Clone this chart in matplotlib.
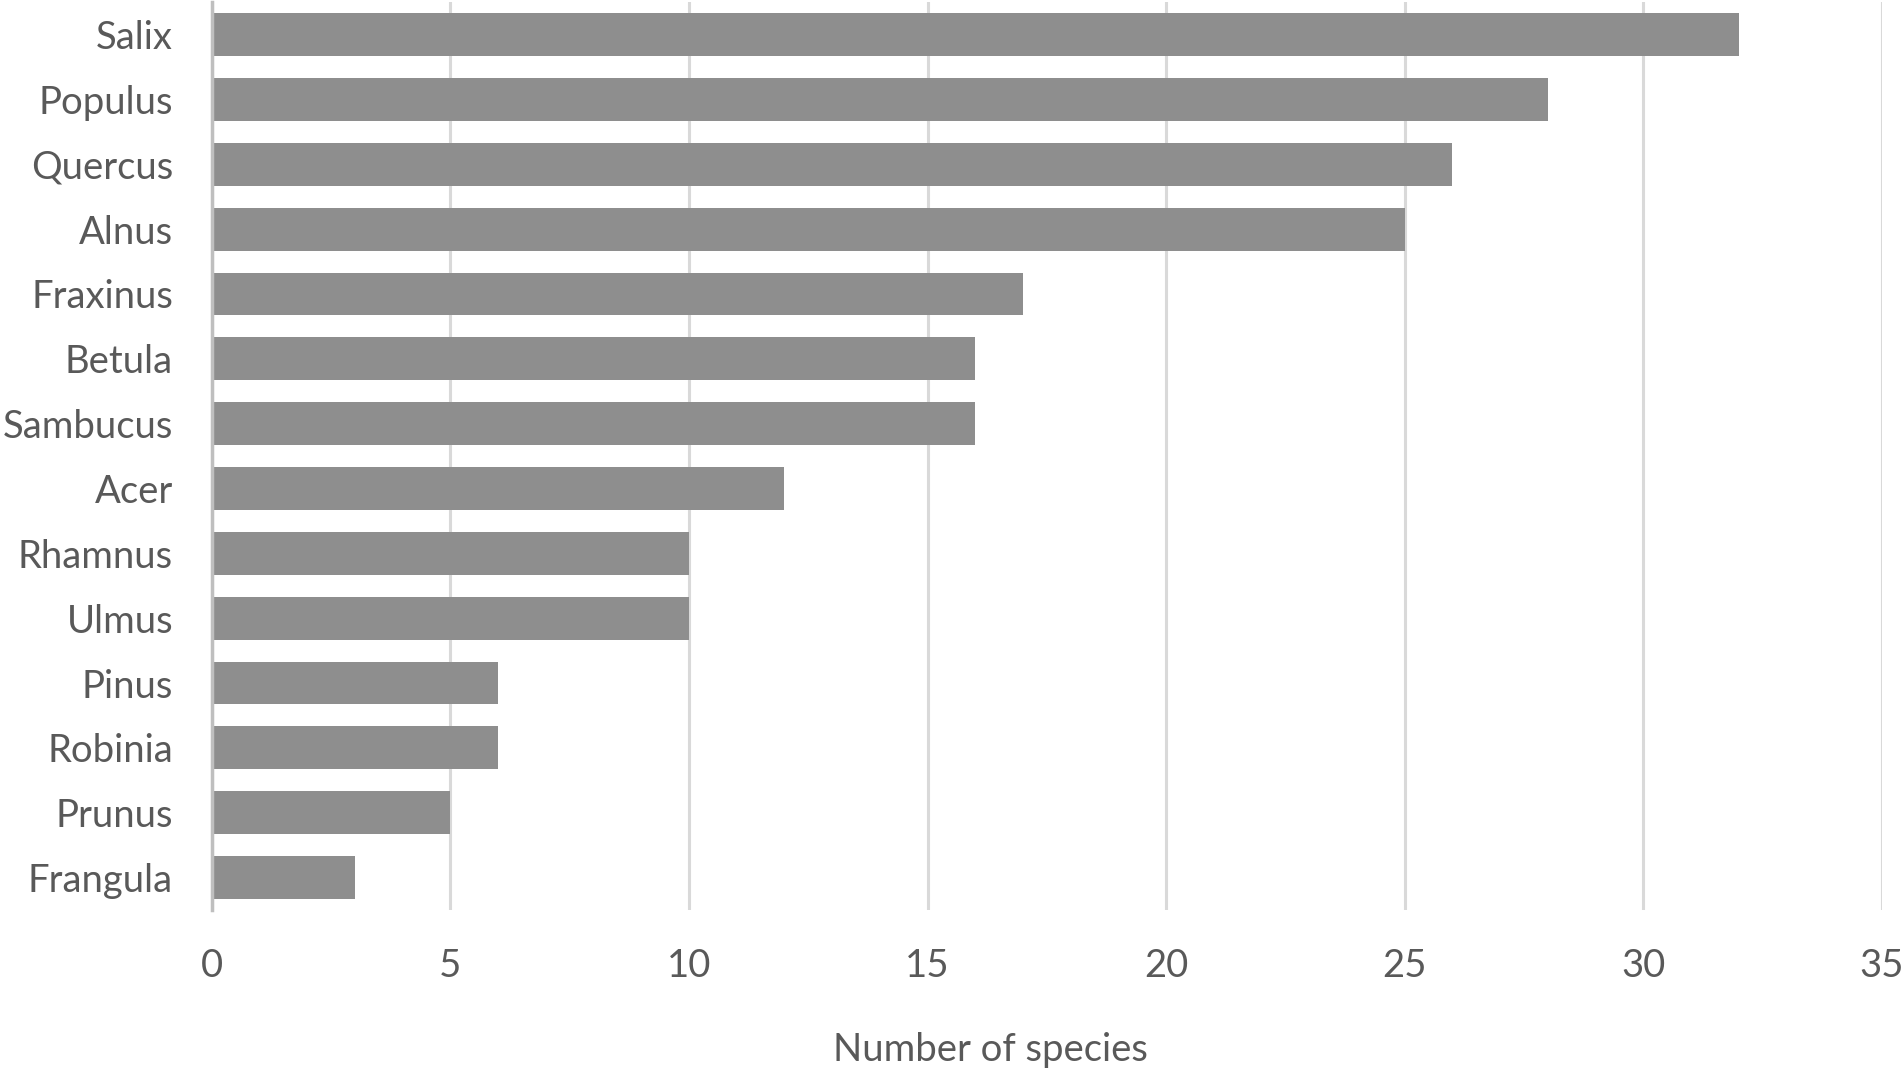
import matplotlib.pyplot as plt

genera = ["Salix", "Populus", "Quercus", "Alnus", "Fraxinus", "Betula", "Sambucus",
          "Acer", "Rhamnus", "Ulmus", "Pinus", "Robinia", "Prunus", "Frangula"]
n_species = [32, 28, 26, 25, 17, 16, 16, 12, 10, 10, 6, 6, 5, 3]
xticks = [0, 5, 10, 15, 20, 25, 30, 35]

plt.rcParams['font.family'] = ['Lato', 'DejaVu Sans']
txt = '#595959'

fig = plt.figure(figsize=(19.04, 10.73), dpi=100)
ax = fig.add_axes([0.1113, 0.1519, 0.8771, 0.8461])

pos = list(range(len(genera)))
ax.barh(pos, n_species, height=0.66, color='#8e8e8e', zorder=3)
ax.set_ylim(len(genera) - 0.5, -0.5)
ax.set_xlim(0, 35)
ax.set_yticks(pos)
ax.set_yticklabels(genera)
ax.set_xticks(xticks)

ax.grid(axis='x', color='#d9d9d9', linewidth=2.2, zorder=0)
for s in ['top', 'right', 'bottom']:
    ax.spines[s].set_visible(False)
ax.spines['left'].set_color('#bfbfbf')
ax.spines['left'].set_linewidth(2.5)
ax.spines['left'].set_zorder(4)

ax.tick_params(axis='both', length=0, labelsize=27.5, labelcolor=txt)
ax.tick_params(axis='y', pad=28)
ax.tick_params(axis='x', pad=27)
# x label sits a bit left of the axis centre in the original
fig.text(0.52, 1 - 1050 / 1073, "Number of species", fontsize=27.5, color=txt,
         ha='center', va='center')

fig.savefig("out.png", dpi=100)
